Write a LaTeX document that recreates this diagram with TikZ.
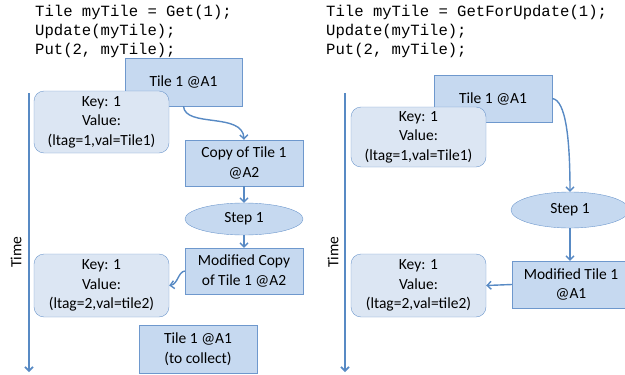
\documentclass[tikz,border=0pt]{standalone}
\usepackage{fontspec}
\setmainfont{Carlito}
\newfontfamily\codefont{Liberation Mono}
\usetikzlibrary{shapes.geometric,arrows.meta}

\definecolor{tilefill}{RGB}{198,217,240}
\definecolor{keyfill}{RGB}{220,230,243}
\definecolor{edgeblue}{RGB}{110,152,205}
\definecolor{arrowblue}{RGB}{88,138,196}

\tikzset{
  tilebox/.style={draw=edgeblue,fill=tilefill,inner sep=0pt,align=center,font=\fontsize{15.5}{19.5}\selectfont},
  keybox/.style={draw=edgeblue,fill=keyfill,rounded corners=10pt,inner sep=0pt,align=center,
    minimum width=135pt,font=\fontsize{15.5}{19.5}\selectfont},
  stepnode/.style={ellipse,draw=edgeblue,fill=tilefill,inner sep=0pt,font=\fontsize{15.5}{18}\selectfont},
  flow/.style={draw=arrowblue,line width=1.4pt,-{Straight Barb[length=4pt,width=8pt]}},
  timeline/.style={draw=arrowblue,line width=1.6pt,-{Straight Barb[length=4pt,width=8pt]}},
  code/.style={inner sep=0pt,align=left,font=\codefont\fontsize{15.6}{19}\selectfont}
}

\begin{document}
\begin{tikzpicture}[x=1pt,y=-1pt]
  \useasboundingbox (0,0) rectangle (625,375);
  \clip (0,0) rectangle (625,375);

  % left: Get
  \node[code,anchor=north west] (codeL) at (35,5) {Tile myTile = Get(1);\\Update(myTile);\\Put(2, myTile);};
  \coordinate (timeLtop) at (29,93);
  \coordinate (timeLend) at (29,372);
  \draw[timeline] (timeLtop) -- (timeLend);
  \node[rotate=90,font=\fontsize{15.5}{18}\selectfont] (timeL) at (16,252) {Time};

  \node[tilebox,minimum width=117pt,minimum height=48pt] (tileL) at (183.5,82) {Tile 1 @A1};
  \node[keybox,minimum height=62pt] (keyL) at (101.5,122) {Key: 1\\Value:\\(ltag=1,val=Tile1)};
  \node[tilebox,minimum width=118pt,minimum height=46pt] (copyL) at (244,163) {Copy of Tile 1\\@A2};
  \node[stepnode,minimum width=118pt,minimum height=32pt] (stepL) at (244,219) {Step 1};
  \node[tilebox,minimum width=118pt,minimum height=46pt] (modL) at (244,271) {Modified Copy\\of Tile 1 @A2};
  \node[keybox,minimum height=63pt] (keyLL) at (101.5,285.5) {Key: 1\\Value:\\(ltag=2,val=tile2)};
  \node[tilebox,minimum width=118pt,minimum height=48pt] (collectL) at (198,349) {Tile 1 @A1\\(to collect)};

  \draw[flow] (tileL.south) .. controls (185,128) and (243,112) .. (copyL.north);
  \draw[flow] (copyL) -- (stepL);
  \draw[flow] (stepL) -- (modL);
  \draw[flow] (modL.west) .. controls (178,272) and (178,284) .. (keyLL.east);

  % right: GetForUpdate
  \node[code,anchor=north west] (codeR) at (326,5) {Tile myTile = GetForUpdate(1);\\Update(myTile);\\Put(2, myTile);};
  \coordinate (timeRtop) at (345,93);
  \coordinate (timeRend) at (345,372);
  \draw[timeline] (timeRtop) -- (timeRend);
  \node[rotate=90,font=\fontsize{15.5}{18}\selectfont] (timeR) at (333,252) {Time};

  \node[tilebox,minimum width=118pt,minimum height=47pt] (tileR) at (493,98.5) {Tile 1 @A1};
  \node[keybox,minimum height=60pt] (keyR) at (418.5,137) {Key: 1\\Value:\\(ltag=1,val=Tile1)};
  \node[stepnode,minimum width=118pt,minimum height=36pt] (stepR) at (570,210) {Step 1};
  \node[tilebox,minimum width=118pt,minimum height=47pt] (modR) at (571,284.5) {Modified Tile 1\\@A1};
  \node[keybox,minimum height=63pt] (keyRR) at (418.5,285.5) {Key: 1\\Value:\\(ltag=2,val=tile2)};

  \draw[flow] (tileR.east) .. controls (566,100) and (570,140) .. (stepR.north);
  \draw[flow] (stepR) -- (stepR |- modR.north);
  \draw[flow] (modR.west) -- (keyRR.east);
\end{tikzpicture}
\end{document}
